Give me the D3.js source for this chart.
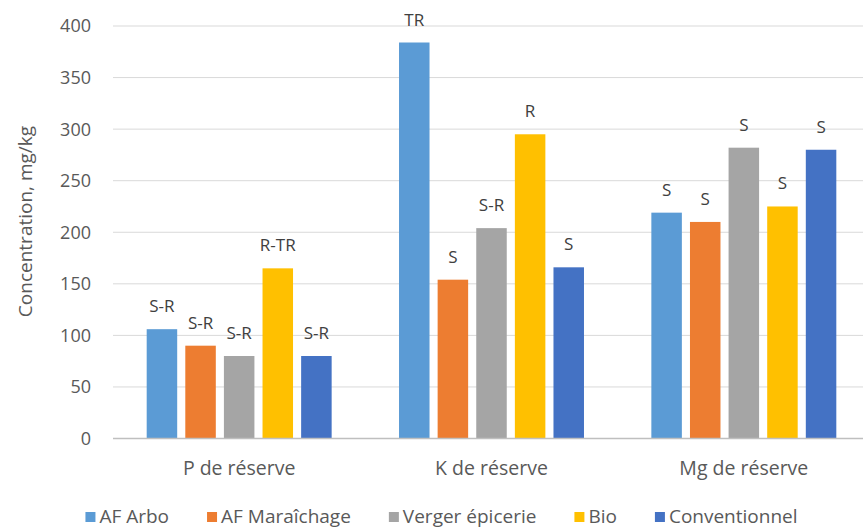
<!DOCTYPE html>
<html>
<head>
<meta charset="utf-8">
<script src="https://cdn.jsdelivr.net/npm/d3@7"></script>
<style>
  body { margin: 0; background: #fff; }
  svg text { font-family: "Open Sans", sans-serif; fill: #595959; }
</style>
</head>
<body>
<svg id="chart" width="863" height="528"></svg>
<script>
// data
var categories = ["P de réserve", "K de réserve", "Mg de réserve"];
var series = ["AF Arbo", "AF Maraîchage", "Verger épicerie", "Bio", "Conventionnel"];
var colors = ["#5B9BD5", "#ED7D31", "#A5A5A5", "#FFC000", "#4472C4"];
var values = [
  [106, 384, 219],   // AF Arbo
  [90, 154, 210],    // AF Maraîchage
  [80, 204, 282],    // Verger épicerie
  [165, 295, 225],   // Bio
  [80, 166, 280]     // Conventionnel
];
var labels = [
  ["S-R", "TR", "S"],
  ["S-R", "S", "S"],
  ["S-R", "S-R", "S"],
  ["R-TR", "R", "S"],
  ["S-R", "S", "S"]
];
var yTicks = [0, 50, 100, 150, 200, 250, 300, 350, 400];

var svg = d3.select("svg#chart");

var plotLeft = 113, plotRight = 870, plotTop = 26, plotBottom = 438.5;

var x0 = d3.scaleBand()
    .domain(categories)
    .range([plotLeft, plotRight]);

var groupWidth = x0.bandwidth() * 0.733;
var x1 = d3.scaleBand()
    .domain(series)
    .range([0, groupWidth])
    .paddingInner(0.21);

var y = d3.scaleLinear()
    .domain([0, 400])
    .range([plotBottom, plotTop]);

// gridlines
svg.append("g")
    .selectAll("line")
    .data(yTicks.filter(function(d) { return d > 0; }))
    .enter().append("line")
    .attr("x1", plotLeft)
    .attr("x2", 863)
    .attr("y1", function(d) { return y(d); })
    .attr("y2", function(d) { return y(d); })
    .attr("stroke", "#D9D9D9")
    .attr("stroke-width", 1);

// y tick labels
svg.append("g")
    .selectAll("text")
    .data(yTicks)
    .enter().append("text")
    .attr("x", 91)
    .attr("y", function(d) { return y(d); })
    .attr("dy", "0.36em")
    .attr("text-anchor", "end")
    .style("font-size", "18px")
    .text(function(d) { return d; });

// bars, flattened
var bars = [];
series.forEach(function(s, i) {
  categories.forEach(function(c, j) {
    bars.push({ series: s, cat: c, value: values[i][j], label: labels[i][j], color: colors[i] });
  });
});

var offset = (x0.bandwidth() - groupWidth) / 2;

svg.append("g")
    .selectAll("rect")
    .data(bars)
    .enter().append("rect")
    .attr("x", function(d) { return x0(d.cat) + offset + x1(d.series); })
    .attr("y", function(d) { return y(d.value); })
    .attr("width", x1.bandwidth())
    .attr("height", function(d) { return y(0) - y(d.value); })
    .attr("fill", function(d) { return d.color; });

// data labels
svg.append("g")
    .selectAll("text")
    .data(bars)
    .enter().append("text")
    .attr("x", function(d) { return x0(d.cat) + offset + x1(d.series) + x1.bandwidth() / 2; })
    .attr("y", function(d) { return y(d.value) - 17; })
    .attr("text-anchor", "middle")
    .style("font-size", "17px")
    .style("fill", "#404040")
    .text(function(d) { return d.label; });

// zero axis line
svg.append("line")
    .attr("x1", plotLeft)
    .attr("x2", 863)
    .attr("y1", y(0))
    .attr("y2", y(0))
    .attr("stroke", "#BFBFBF")
    .attr("stroke-width", 1.5);

// category labels
svg.append("g")
    .selectAll("text")
    .data(categories)
    .enter().append("text")
    .attr("x", function(d) { return x0(d) + x0.bandwidth() / 2; })
    .attr("y", 475)
    .attr("text-anchor", "middle")
    .style("font-size", "19.5px")
    .text(function(d) { return d; });

// y axis title
svg.append("text")
    .attr("transform", "translate(32,221.5) rotate(-90)")
    .attr("text-anchor", "middle")
    .style("font-size", "19px")
    .text("Concentration, mg/kg");

// legend
var legend = svg.append("g");
var lx = 0, gap = 38;
series.forEach(function(s, i) {
  var item = legend.append("g").attr("transform", "translate(" + lx + ",0)");
  item.append("rect")
      .attr("x", 0).attr("y", -11)
      .attr("width", 10).attr("height", 10)
      .attr("fill", colors[i]);
  var t = item.append("text")
      .attr("x", 14).attr("y", 0)
      .style("font-size", "19px")
      .text(s);
  lx += 14 + t.node().getComputedTextLength() + gap;
});
var legendWidth = lx - gap;
legend.attr("transform", "translate(" + (441.5 - legendWidth / 2) + ",523)");
</script>
</body>
</html>
